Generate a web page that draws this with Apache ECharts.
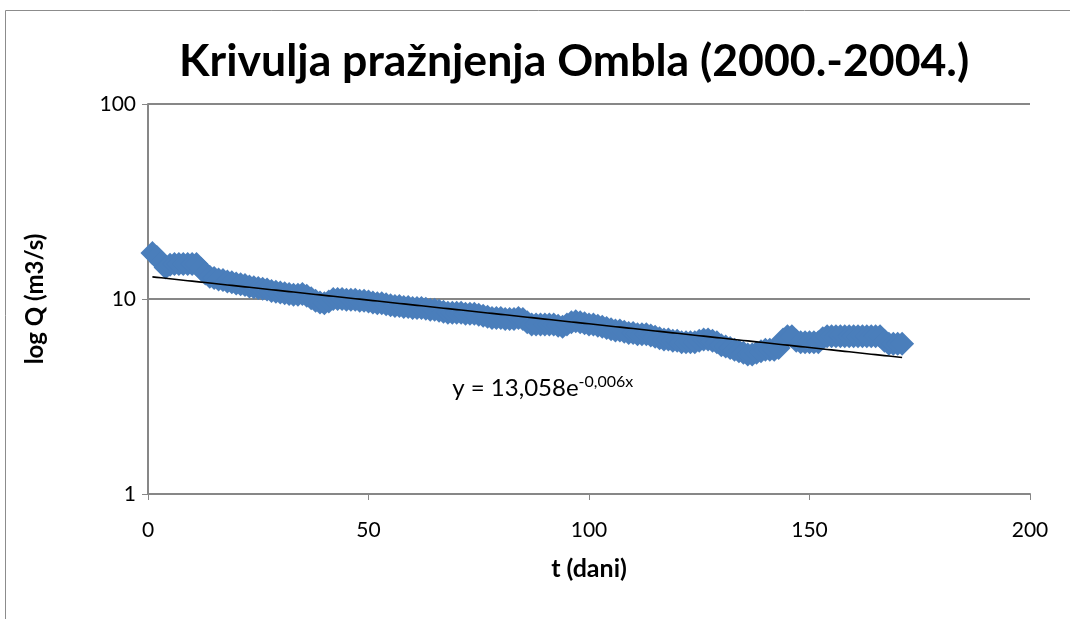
<!DOCTYPE html>
<html>
<head>
<meta charset="utf-8">
<script src="https://cdn.jsdelivr.net/npm/echarts@6/dist/echarts.min.js"></script>
<style>
  html, body { margin: 0; padding: 0; background: #ffffff; }
  #chart { width: 1070px; height: 619px; }
</style>
</head>
<body>
<div id="chart"></div>
<script>
// Recession curve of the Ombla spring, daily discharge (m3/s)
const days = Array.from({ length: 171 }, (_, i) => i + 1);
const discharge = [
  17.2, 16.4, 15.5, 14.5, 15.0, 15.1, 15.1, 15.1, 15.1, 15.1,
  15.1, 14.3, 13.5, 13.0, 12.8, 12.6, 12.5, 12.3, 12.2, 12.0,
  11.9, 11.8, 11.6, 11.5, 11.4, 11.3, 11.2, 11.0, 10.9, 10.8,
  10.7, 10.6, 10.5, 10.5, 10.6, 10.4, 10.1, 9.8, 9.6, 9.5,
  9.7, 10.0, 10.0, 10.0, 9.9, 9.9, 9.9, 9.8, 9.8, 9.7,
  9.6, 9.5, 9.5, 9.4, 9.3, 9.2, 9.2, 9.1, 9.1, 9.0,
  9.0, 9.0, 8.9, 8.8, 8.8, 8.7, 8.6, 8.5, 8.5, 8.5,
  8.5, 8.4, 8.4, 8.4, 8.3, 8.2, 8.1, 8.0, 8.0, 8.0,
  7.9, 7.9, 7.9, 8.0, 7.9, 7.6, 7.4, 7.4, 7.4, 7.4,
  7.4, 7.4, 7.3, 7.2, 7.4, 7.6, 7.7, 7.6, 7.5, 7.4,
  7.4, 7.3, 7.2, 7.1, 7.0, 6.9, 6.9, 6.8, 6.7, 6.7,
  6.6, 6.6, 6.6, 6.5, 6.4, 6.3, 6.2, 6.2, 6.1, 6.1,
  6.0, 6.0, 6.0, 6.0, 6.1, 6.2, 6.2, 6.1, 6.0, 5.8,
  5.7, 5.6, 5.5, 5.4, 5.3, 5.2, 5.2, 5.3, 5.4, 5.5,
  5.5, 5.5, 5.6, 6.2, 6.45, 6.45, 6.1, 6.0, 6.0, 6.0,
  6.0, 6.0, 6.3, 6.45, 6.45, 6.45, 6.45, 6.45, 6.45, 6.45,
  6.45, 6.45, 6.45, 6.45, 6.45, 6.45, 6.1, 5.9, 5.9, 5.9,
  5.9
];
const xTicks = [0, 50, 100, 150, 200];
const yTicks = [1, 10, 100];

// Exponential trend y = a * e^(b x)
const trendA = 13.058;
const trendB = -0.0056;
const trendLabelAt = [69, 3.6];

const titleText = 'Krivulja pražnjenja Ombla (2000.-2004.)';
const xName = 't (dani)';
const yName = 'log Q (m3/s)';

const FONT = 'Lato, "Liberation Sans", sans-serif';
const GRID_GRAY = '#878787';

const points = days.map((d, i) => [d, discharge[i]]);
const trendPts = days.map(d => [d, trendA * Math.exp(trendB * d)]);
const fmt = v => v.toFixed(3).replace('.', ',');

const chart = echarts.init(document.getElementById('chart'), null, { renderer: 'canvas' });

const frame = {
  type: 'rect',
  shape: { x: 5.5, y: 10.5, width: 1200, height: 800 },
  style: { fill: 'none', stroke: '#8c8c8c', lineWidth: 1 },
  silent: true,
  z: -1
};

chart.setOption({
  backgroundColor: '#ffffff',
  animation: false,
  title: {
    text: titleText,
    left: 174,
    top: 34,
    textStyle: { fontFamily: FONT, fontWeight: 'bold', fontSize: 44.6, color: '#000000' }
  },
  grid: { left: 148, right: 40, top: 104, bottom: 125 },
  xAxis: {
    type: 'value',
    min: xTicks[0],
    max: xTicks[xTicks.length - 1],
    interval: 50,
    name: xName,
    nameLocation: 'middle',
    nameGap: 62,
    nameTextStyle: { fontFamily: FONT, fontWeight: 'bold', fontSize: 25, color: '#000' },
    axisLine: { show: true, lineStyle: { color: GRID_GRAY, width: 2 } },
    axisTick: { show: true, inside: false, length: 6, lineStyle: { color: GRID_GRAY, width: 1 } },
    axisLabel: { margin: 26, fontFamily: FONT, fontSize: 21, color: '#000' },
    splitLine: { show: false }
  },
  yAxis: {
    type: 'log',
    logBase: 10,
    min: yTicks[0],
    max: yTicks[yTicks.length - 1],
    name: yName,
    nameLocation: 'middle',
    nameGap: 101,
    nameRotate: 90,
    nameTextStyle: { fontFamily: FONT, fontWeight: 'bold', fontSize: 24, color: '#000' },
    axisLine: { show: true, lineStyle: { color: GRID_GRAY, width: 2 } },
    axisTick: { show: true, inside: false, length: 6, lineStyle: { color: GRID_GRAY, width: 1 } },
    axisLabel: { margin: 12, fontFamily: FONT, fontSize: 21, color: '#000' },
    minorTick: { show: false },
    splitLine: { show: true, lineStyle: { color: GRID_GRAY, width: 2 } }
  },
  series: [
    {
      name: 'Q',
      type: 'scatter',
      data: points,
      symbol: 'diamond',
      symbolSize: 24,
      itemStyle: { color: '#4a7ebb', opacity: 1 },
      z: 2
    },
    {
      name: 'trend',
      type: 'line',
      data: trendPts,
      showSymbol: false,
      symbol: 'none',
      lineStyle: { color: '#000000', width: 1.6 },
      z: 3
    }
  ],
  graphic: [frame]
});

// Trend equation label placed in data coordinates
const lp = chart.convertToPixel({ gridIndex: 0 }, trendLabelAt);
chart.setOption({
  graphic: [
    frame,
    {
      type: 'text',
      x: lp[0],
      y: lp[1],
      z: 10,
      style: {
        text: '{b|y = ' + fmt(trendA) + 'e}{s|' + fmt(trendB) + 'x}',
        verticalAlign: 'middle',
        rich: {
          b: { fontFamily: FONT, fontSize: 24, color: '#000', lineHeight: 30, verticalAlign: 'bottom' },
          s: { fontFamily: FONT, fontSize: 16, color: '#000', lineHeight: 30, verticalAlign: 'top', padding: [3, 0, 0, 0] }
        }
      }
    }
  ]
});
</script>
</body>
</html>
